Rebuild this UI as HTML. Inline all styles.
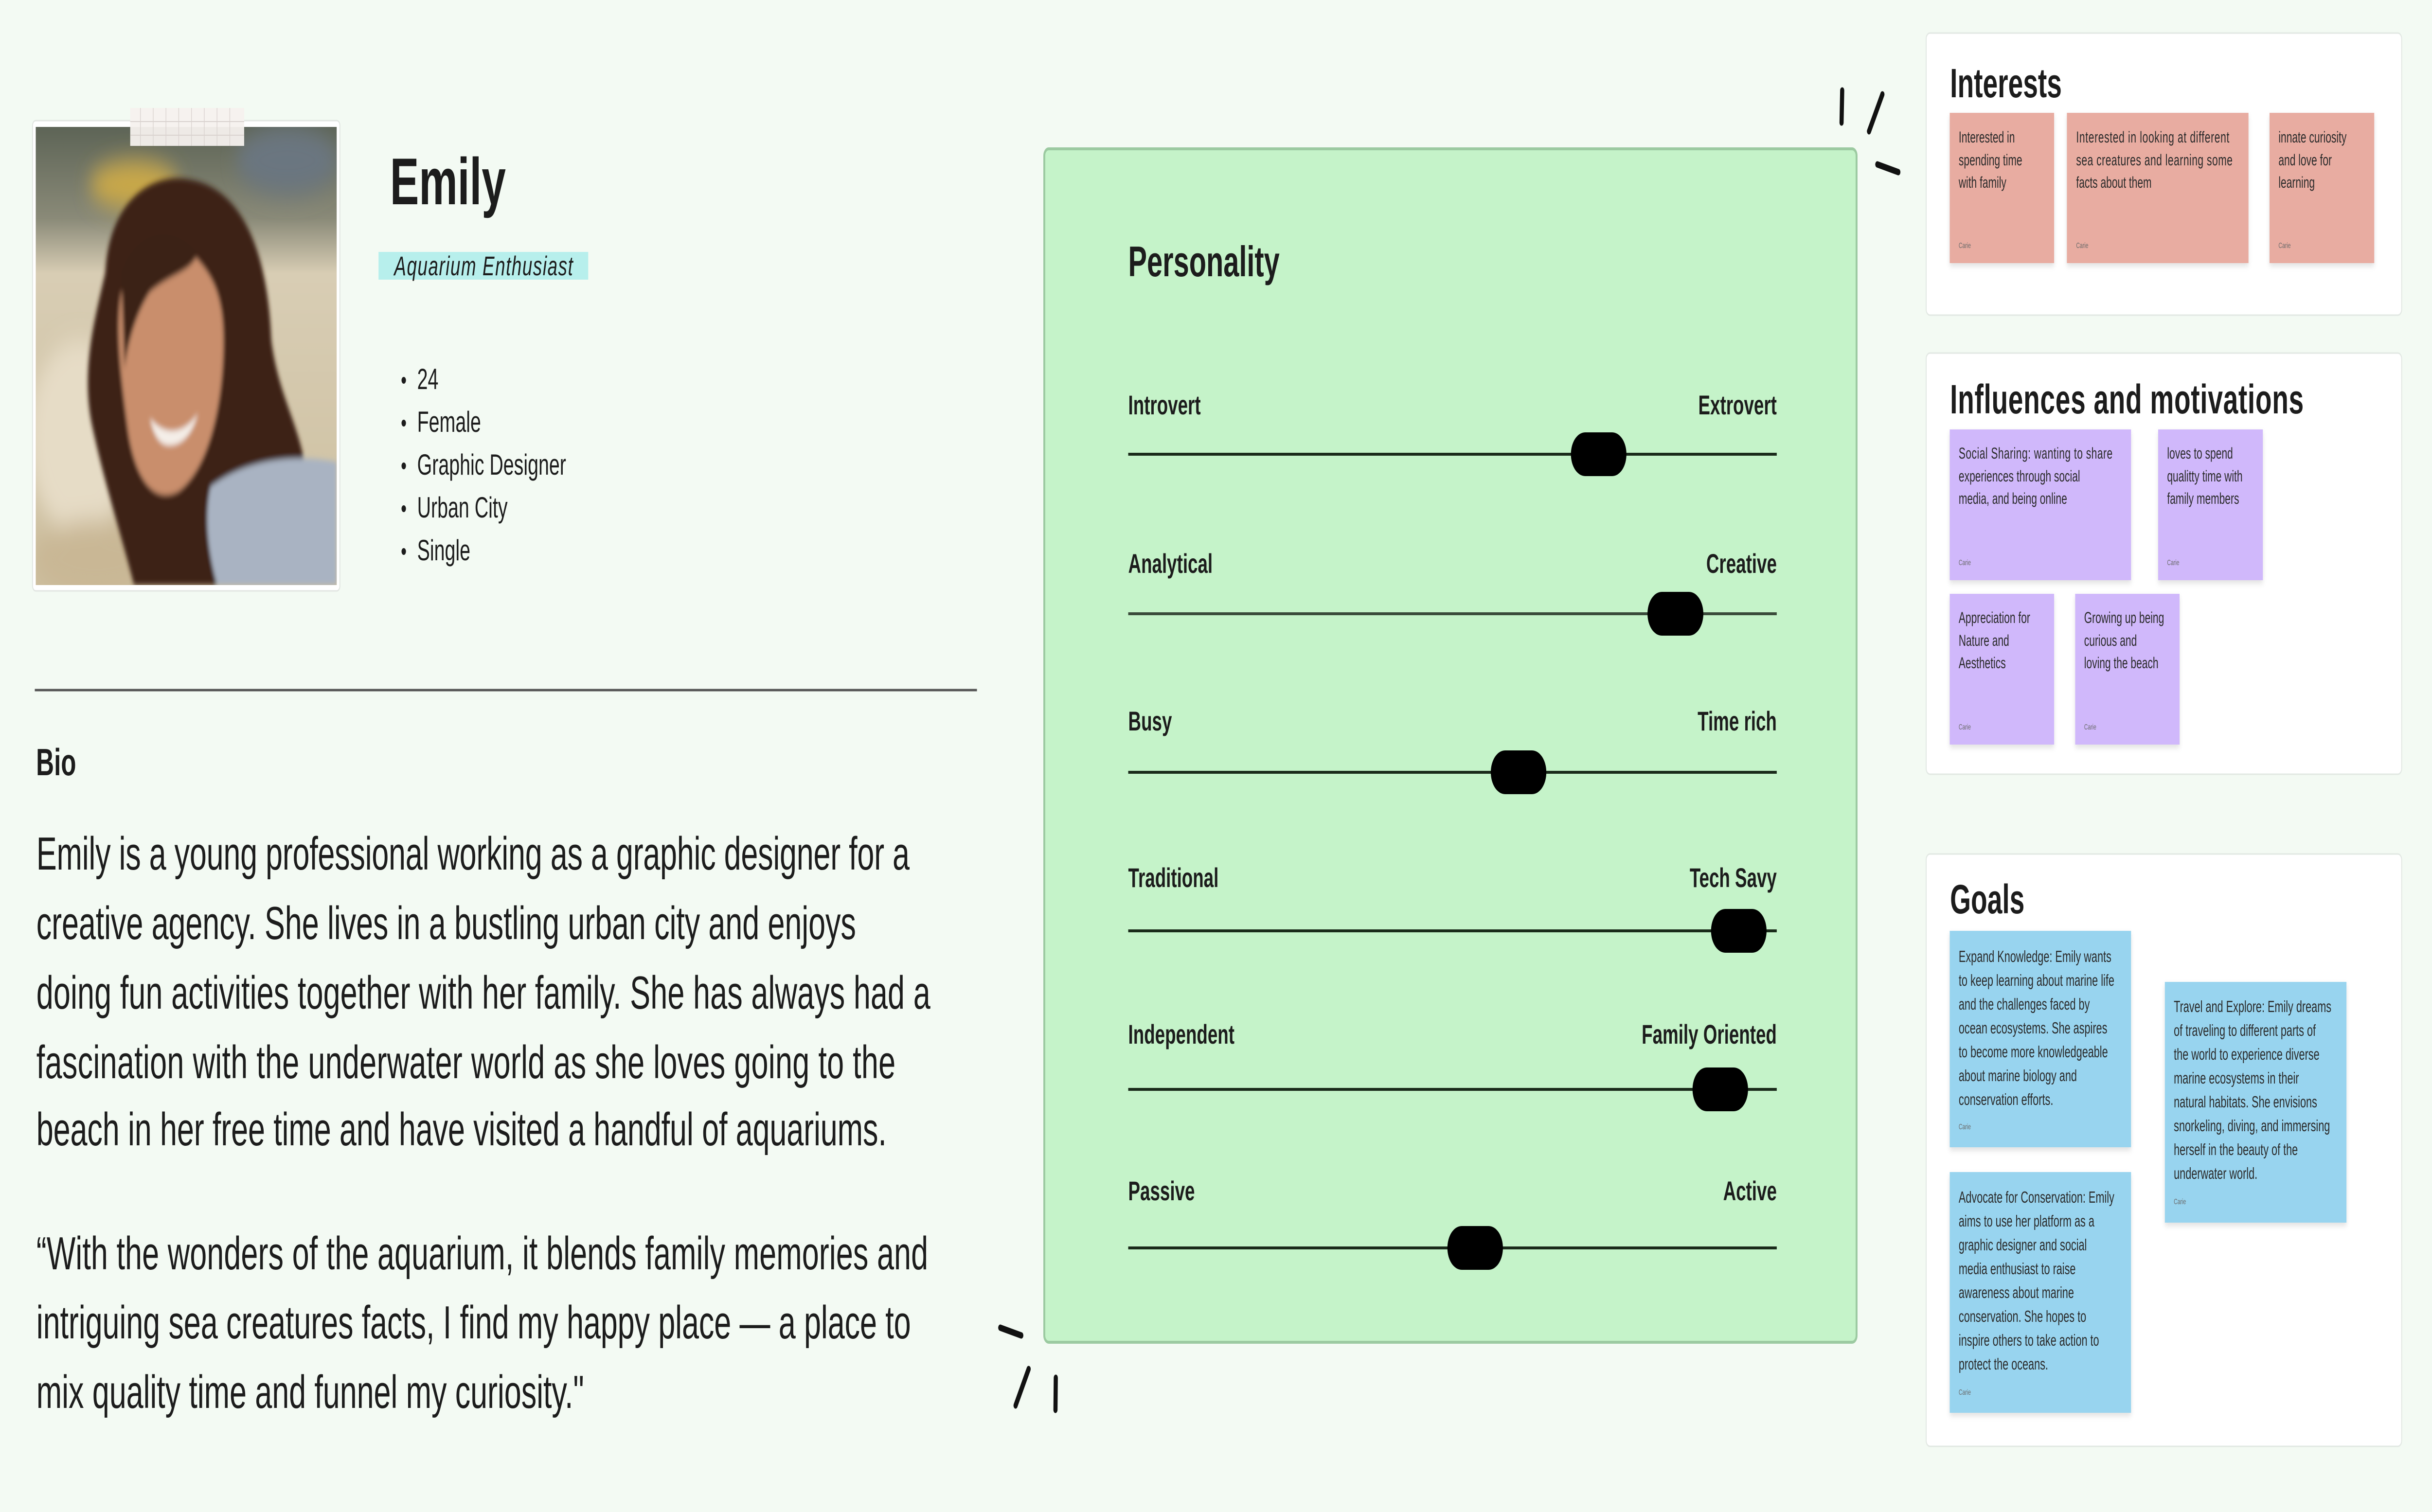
<!DOCTYPE html>
<html><head><meta charset="utf-8"><style>
html,body{margin:0;padding:0;background:#f3faf3;width:100%;height:100%;overflow:hidden;}
svg{display:block;position:absolute;left:0;top:0;width:100vw;height:100vh}
text{font-family:"Liberation Sans",Arial,sans-serif;fill:#1c1c1c}
.b{font-weight:bold}
.s{font-size:32px;fill:#2a2a2a}
.c{font-size:16px;fill:#6a6a6a}
.g{font-size:33px;fill:#2a2a2a}
.lab{font-size:56px;font-weight:bold}
</style></head><body>
<svg viewBox="0 0 7620 3109" preserveAspectRatio="none" xmlns="http://www.w3.org/2000/svg">
<defs>
<filter id="sh" x="-10%" y="-10%" width="130%" height="130%"><feDropShadow dx="0" dy="6" stdDeviation="6" flood-color="#000" flood-opacity="0.12"/></filter>
<filter id="bl"><feGaussianBlur stdDeviation="25"/></filter>
<filter id="bl2"><feGaussianBlur stdDeviation="6"/></filter>
<clipPath id="ph"><rect x="112" y="261" width="943" height="942"/></clipPath>
<linearGradient id="bg" x1="0" y1="0" x2="0" y2="1">
<stop offset="0" stop-color="#5d6456"/><stop offset="0.2" stop-color="#8a8a78"/><stop offset="0.32" stop-color="#d8cdb4"/><stop offset="1" stop-color="#cdbf9f"/></linearGradient>
</defs>
<rect width="7620" height="3109" fill="#f3faf3"/>

<rect x="102" y="248" width="963" height="967" rx="10" fill="#fff" stroke="#e2e6e2" stroke-width="3"/>
<g clip-path="url(#ph)">
<rect x="112" y="261" width="943" height="942" fill="url(#bg)"/>
<g filter="url(#bl)">
<ellipse cx="420" cy="380" rx="140" ry="50" fill="#c9a84a"/>
<ellipse cx="900" cy="330" rx="160" ry="70" fill="#6b7680"/>
<ellipse cx="250" cy="900" rx="160" ry="200" fill="#e6dcc6"/>
<ellipse cx="300" cy="1150" rx="200" ry="80" fill="#c9b795"/>
</g>
<g filter="url(#bl2)">
<path d="M330 560 C340 420 470 350 600 370 C760 390 840 520 850 700 C880 850 980 900 960 1060 C900 1120 820 1180 720 1203 L420 1203 C380 1100 330 1000 290 880 C250 760 300 650 330 560Z" fill="#3e2416"/>
<path d="M380 600 C420 500 520 470 600 520 C660 560 700 600 700 700 C700 820 660 960 560 1010 C480 1040 420 980 400 880 C380 780 360 680 380 600Z" fill="#c98e6c"/>
<path d="M380 560 C430 470 540 460 620 520 C600 560 540 560 470 600 C430 640 400 700 390 760 Z" fill="#3a2214"/>
<path d="M660 1000 C760 950 900 930 1055 950 L1055 1203 L680 1203 C650 1130 640 1060 660 1000Z" fill="#a9b3c2"/>
<path d="M470 860 C520 900 580 890 620 850 C600 900 560 920 520 915 C495 910 480 890 470 860Z" fill="#f4eee8"/>
</g>
</g>
<rect x="408" y="222" width="357" height="78" fill="#f6f1ee" opacity="0.95"/>
<g stroke="#d9d2cf" stroke-width="2">
<line x1="440" y1="222" x2="440" y2="300"/><line x1="480" y1="222" x2="480" y2="300"/><line x1="520" y1="222" x2="520" y2="300"/><line x1="560" y1="222" x2="560" y2="300"/><line x1="600" y1="222" x2="600" y2="300"/><line x1="640" y1="222" x2="640" y2="300"/><line x1="680" y1="222" x2="680" y2="300"/><line x1="720" y1="222" x2="720" y2="300"/>
<line x1="408" y1="250" x2="765" y2="250"/><line x1="408" y1="278" x2="765" y2="278"/></g>

<text x="1222" y="420" class="b" font-size="136">Emily</text>
<rect x="1186" y="518" width="657" height="57" fill="#b7efec"/>
<text x="1235" y="566" font-size="56" font-style="italic" textLength="560">Aquarium Enthusiast</text>
<g font-size="60">
<circle cx="1265" cy="782" r="7" fill="#1c1c1c"/><text x="1307" y="800">24</text>
<circle cx="1265" cy="870" r="7" fill="#1c1c1c"/><text x="1307" y="888">Female</text>
<circle cx="1265" cy="958" r="7" fill="#1c1c1c"/><text x="1307" y="976">Graphic Designer</text>
<circle cx="1265" cy="1046" r="7" fill="#1c1c1c"/><text x="1307" y="1064">Urban City</text>
<circle cx="1265" cy="1134" r="7" fill="#1c1c1c"/><text x="1307" y="1152">Single</text>
</g>
<line x1="109" y1="1419" x2="3061" y2="1419" stroke="#555" stroke-width="5"/>
<text x="113" y="1594" class="b" font-size="78">Bio</text>
<g font-size="96">
<text x="114" y="1788" textLength="2736">Emily is a young professional working as a graphic designer for a</text>
<text x="114" y="1931" textLength="2568">creative agency. She lives in a bustling urban city and enjoys</text>
<text x="114" y="2074" textLength="2801">doing fun activities together with her family. She has always had a</text>
<text x="114" y="2217" textLength="2692">fascination with the underwater world as she loves going to the</text>
<text x="114" y="2355" textLength="2664">beach in her free time and have visited a handful of aquariums.</text>
<text x="114" y="2610" textLength="2794">“With the wonders of the aquarium, it blends family memories and</text>
<text x="114" y="2752" textLength="2740">intriguing sea creatures facts, I find my happy place — a place to</text>
<text x="114" y="2895" textLength="1716">mix quality time and funnel my curiosity."</text>
</g>

<rect x="3272" y="306" width="2545" height="2454" rx="14" fill="#c5f3c9" stroke="#9ccaa1" stroke-width="6"/>
<text x="3535" y="568" class="b" font-size="88">Personality</text>
<g>
<text x="3535" y="852" class="lab">Introvert</text><text x="5567" y="852" class="lab" text-anchor="end">Extrovert</text>
<line x1="3535" y1="934" x2="5567" y2="934" stroke="#1a2a1a" stroke-width="6"/><rect x="4922" y="889" width="174" height="90" rx="45" fill="#000"/>
<text x="3535" y="1178" class="lab">Analytical</text><text x="5567" y="1178" class="lab" text-anchor="end">Creative</text>
<line x1="3535" y1="1262" x2="5567" y2="1262" stroke="#3a4a3a" stroke-width="6"/><rect x="5162" y="1217" width="175" height="90" rx="45" fill="#000"/>
<text x="3535" y="1502" class="lab">Busy</text><text x="5567" y="1502" class="lab" text-anchor="end">Time rich</text>
<line x1="3535" y1="1588" x2="5567" y2="1588" stroke="#1a2a1a" stroke-width="6"/><rect x="4671" y="1543" width="174" height="90" rx="45" fill="#000"/>
<text x="3535" y="1824" class="lab">Traditional</text><text x="5567" y="1824" class="lab" text-anchor="end">Tech Savy</text>
<line x1="3535" y1="1914" x2="5567" y2="1914" stroke="#1a2a1a" stroke-width="6"/><rect x="5361" y="1869" width="174" height="90" rx="45" fill="#000"/>
<text x="3535" y="2146" class="lab">Independent</text><text x="5567" y="2146" class="lab" text-anchor="end">Family Oriented</text>
<line x1="3535" y1="2240" x2="5567" y2="2240" stroke="#1a2a1a" stroke-width="6"/><rect x="5303" y="2195" width="174" height="90" rx="45" fill="#000"/>
<text x="3535" y="2468" class="lab">Passive</text><text x="5567" y="2468" class="lab" text-anchor="end">Active</text>
<line x1="3535" y1="2566" x2="5567" y2="2566" stroke="#1a2a1a" stroke-width="6"/><rect x="4535" y="2521" width="174" height="90" rx="45" fill="#000"/>
</g>
<g stroke="#111" stroke-width="13" stroke-linecap="round">
<line x1="5772" y1="186" x2="5770" y2="252"/><line x1="5898" y1="194" x2="5856" y2="270"/><line x1="5882" y1="338" x2="5948" y2="354"/>
<line x1="3134" y1="2730" x2="3200" y2="2746"/><line x1="3223" y1="2815" x2="3182" y2="2890"/><line x1="3308" y1="2833" x2="3307" y2="2899"/>
</g>

<rect x="6035" y="68" width="1490" height="580" rx="12" fill="#fff" stroke="#e2e8e3" stroke-width="3"/>
<text x="6110" y="200" class="b" font-size="84">Interests</text>
<g filter="url(#sh)">
<rect x="6109" y="232" width="327" height="309" fill="#e8aca1"/>
<rect x="6476" y="232" width="569" height="309" fill="#e8aca1"/>
<rect x="7111" y="232" width="328" height="309" fill="#e8aca1"/>
</g>
<text class="s" x="6137" y="293">Interested in</text><text class="s" x="6137" y="340">spending time</text><text class="s" x="6137" y="386">with family</text><text class="c" x="6137" y="510">Carie</text>
<text class="s" x="6505" y="293" textLength="480">Interested in looking at different</text><text class="s" x="6505" y="340" textLength="490">sea creatures and learning some</text><text class="s" x="6505" y="386">facts about them</text><text class="c" x="6505" y="510">Carie</text>
<text class="s" x="7139" y="293">innate curiosity</text><text class="s" x="7139" y="340">and love for</text><text class="s" x="7139" y="386">learning</text><text class="c" x="7139" y="510">Carie</text>

<rect x="6035" y="726" width="1490" height="866" rx="12" fill="#fff" stroke="#e2e8e3" stroke-width="3"/>
<text x="6110" y="850" class="b" font-size="84" textLength="1108">Influences and motivations</text>
<g filter="url(#sh)">
<rect x="6109" y="883" width="568" height="310" fill="#d0b8fb"/>
<rect x="6762" y="883" width="328" height="310" fill="#d0b8fb"/>
<rect x="6109" y="1221" width="327" height="310" fill="#d0b8fb"/>
<rect x="6502" y="1221" width="327" height="310" fill="#d0b8fb"/>
</g>
<text class="s" x="6137" y="943" textLength="482">Social Sharing: wanting to share</text><text class="s" x="6137" y="990">experiences through social</text><text class="s" x="6137" y="1036">media, and being online</text><text class="c" x="6137" y="1162">Carie</text>
<text class="s" x="6790" y="943">loves to spend</text><text class="s" x="6790" y="990">qualitty time with</text><text class="s" x="6790" y="1036">family members</text><text class="c" x="6790" y="1162">Carie</text>
<text class="s" x="6137" y="1281">Appreciation for</text><text class="s" x="6137" y="1328">Nature and</text><text class="s" x="6137" y="1374">Aesthetics</text><text class="c" x="6137" y="1500">Carie</text>
<text class="s" x="6530" y="1281">Growing up being</text><text class="s" x="6530" y="1328">curious and</text><text class="s" x="6530" y="1374">loving the beach</text><text class="c" x="6530" y="1500">Carie</text>

<rect x="6035" y="1756" width="1490" height="1218" rx="12" fill="#fff" stroke="#e2e8e3" stroke-width="3"/>
<text x="6110" y="1878" class="b" font-size="84">Goals</text>
<g filter="url(#sh)">
<rect x="6109" y="1914" width="568" height="445" fill="#98d4ef"/>
<rect x="6109" y="2410" width="568" height="495" fill="#98d4ef"/>
<rect x="6783" y="2019" width="569" height="495" fill="#98d4ef"/>
</g>
<g>
<text class="g" x="6137" y="1978">Expand Knowledge: Emily wants</text>
<text class="g" x="6137" y="2027">to keep learning about marine life</text>
<text class="g" x="6137" y="2076">and the challenges faced by</text>
<text class="g" x="6137" y="2125">ocean ecosystems. She aspires</text>
<text class="g" x="6137" y="2174">to become more knowledgeable</text>
<text class="g" x="6137" y="2223">about marine biology and</text>
<text class="g" x="6137" y="2272">conservation efforts.</text>
<text class="c" x="6137" y="2322">Carie</text>
<text class="g" x="6137" y="2473">Advocate for Conservation: Emily</text>
<text class="g" x="6137" y="2522">aims to use her platform as a</text>
<text class="g" x="6137" y="2571">graphic designer and social</text>
<text class="g" x="6137" y="2620">media enthusiast to raise</text>
<text class="g" x="6137" y="2669">awareness about marine</text>
<text class="g" x="6137" y="2718">conservation. She hopes to</text>
<text class="g" x="6137" y="2767">inspire others to take action to</text>
<text class="g" x="6137" y="2816">protect the oceans.</text>
<text class="c" x="6137" y="2868">Carie</text>
<text class="g" x="6811" y="2081">Travel and Explore: Emily dreams</text>
<text class="g" x="6811" y="2130">of traveling to different parts of</text>
<text class="g" x="6811" y="2179">the world to experience diverse</text>
<text class="g" x="6811" y="2228">marine ecosystems in their</text>
<text class="g" x="6811" y="2277">natural habitats. She envisions</text>
<text class="g" x="6811" y="2326">snorkeling, diving, and immersing</text>
<text class="g" x="6811" y="2375">herself in the beauty of the</text>
<text class="g" x="6811" y="2424">underwater world.</text>
<text class="c" x="6811" y="2476">Carie</text>
</g>
</svg>
</body></html>
